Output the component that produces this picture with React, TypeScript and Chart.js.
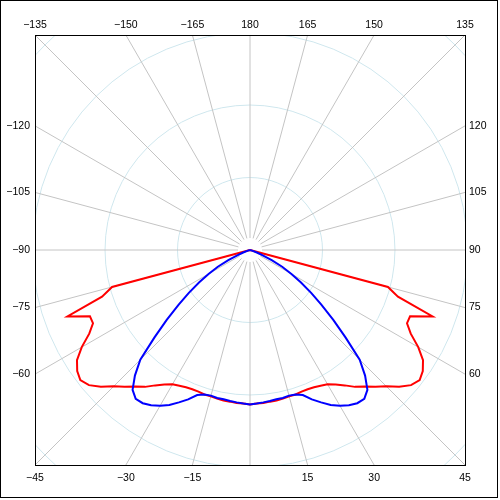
import React, { useEffect, useRef } from "react";
import { Chart, registerables } from "chart.js";

Chart.register(...registerables);

// gamma angles (deg from nadir), one half-plane; the other half is the mirror
const GAMMA = [0, 2.5, 5, 7.5, 10, 12.5, 15, 17.5, 20, 22.5, 25, 27.5, 30, 32.5, 35, 37.5, 40, 42.5, 45, 47.5, 50, 52.5, 55, 57.5, 60, 62.5, 65, 67.5, 70, 72.5, 75, 77.5, 80, 82.5, 85, 87.5, 90];

// C0-C180 plane (red)
const RED_C0_C180 = [213, 212, 212, 211, 211, 210, 209, 209, 208, 208, 209, 211, 214, 220, 228, 238, 246, 256, 266, 279, 290, 295, 291, 283, 268, 250, 239, 239, 268, 214, 197, 0, 0, 0, 0, 0, 0];

// C90-C270 plane (blue)
const BLUE_C90_C270 = [213, 212, 211, 210, 209, 209, 208, 209, 213, 223, 232, 241, 248, 254, 258, 259, 252, 235, 214, 179, 150, 124, 103, 83, 66, 50, 33, 19, 10, 3, 0, 0, 0, 0, 0, 0, 0];

// concentric rings
const RING_VALUES = [100, 200, 300, 400];

// spokes every 15 degrees
const SPOKE_ANGLES = [-165, -150, -135, -120, -105, -90, -75, -60, -45, -30, -15, 0, 15, 30, 45, 60, 75, 90, 105, 120, 135, 150, 165, 180];

// spokes whose label is shown on the frame
const LABELLED_ANGLES = [-165, -150, -135, -120, -105, -90, -75, -60, -45, -30, -15, 15, 30, 45, 60, 75, 90, 105, 120, 135, 150, 165, 180];

const AXIS_LIMIT = 296.6;

function toPoints(values: number[]) {
  const pts: { x: number; y: number }[] = [];
  for (let i = GAMMA.length - 1; i >= 0; i--) {
    const g = (-GAMMA[i] * Math.PI) / 180;
    pts.push({ x: values[i] * Math.sin(g), y: -values[i] * Math.cos(g) });
  }
  for (let i = 1; i < GAMMA.length; i++) {
    const g = (GAMMA[i] * Math.PI) / 180;
    pts.push({ x: values[i] * Math.sin(g), y: -values[i] * Math.cos(g) });
  }
  return pts;
}

function fmt(a: number) {
  return a < 0 ? "\u2212" + Math.abs(a) : String(a);
}

const polarGrid = {
  id: "polarGrid",
  beforeDatasetsDraw(chart: any) {
    const { ctx, chartArea, scales } = chart;
    const xs = scales.x;
    const ys = scales.y;
    const cx = xs.getPixelForValue(0);
    const cy = ys.getPixelForValue(0);
    const half = (chartArea.right - chartArea.left) / 2;
    ctx.save();
    ctx.beginPath();
    ctx.rect(chartArea.left, chartArea.top, chartArea.right - chartArea.left, chartArea.bottom - chartArea.top);
    ctx.clip();
    ctx.strokeStyle = "#cfe7ee";
    ctx.lineWidth = 1;
    for (const v of RING_VALUES) {
      const r = xs.getPixelForValue(v) - cx;
      ctx.beginPath();
      ctx.arc(cx, cy, r, 0, Math.PI * 2);
      ctx.stroke();
    }
    ctx.strokeStyle = "#c4c4c4";
    for (const a of SPOKE_ANGLES) {
      const g = (a * Math.PI) / 180;
      const dx = Math.sin(g);
      const dy = Math.cos(g);
      const t = half / Math.max(Math.abs(dx), Math.abs(dy));
      const r0 = 12;
      ctx.beginPath();
      ctx.moveTo(cx + dx * r0, cy + dy * r0);
      ctx.lineTo(cx + dx * t, cy + dy * t);
      ctx.stroke();
    }
    ctx.restore();
  },
  afterDraw(chart: any) {
    const { ctx, chartArea, scales, width, height } = chart;
    const xs = scales.x;
    const ys = scales.y;
    const cx = xs.getPixelForValue(0);
    const cy = ys.getPixelForValue(0);
    const half = (chartArea.right - chartArea.left) / 2;
    ctx.save();
    ctx.strokeStyle = "#000";
    ctx.lineWidth = 1;
    ctx.strokeRect(Math.round(chartArea.left) + 0.5, Math.round(chartArea.top) + 0.5, Math.round(chartArea.right - chartArea.left), Math.round(chartArea.bottom - chartArea.top));
    ctx.strokeRect(0.5, 0.5, width - 3, height - 3);
    ctx.fillStyle = "#000";
    ctx.font = '10.5px "Liberation Sans", Arial, sans-serif';
    ctx.textBaseline = "middle";
    for (const a of LABELLED_ANGLES) {
      const g = (a * Math.PI) / 180;
      const dx = Math.sin(g);
      const dy = Math.cos(g);
      const t = half / Math.max(Math.abs(dx), Math.abs(dy));
      const px = cx + dx * t;
      const py = cy + dy * t;
      const txt = fmt(a);
      if (Math.abs(dy) >= Math.abs(dx) - 1e-9) {
        ctx.textAlign = "center";
        if (dy < 0) ctx.fillText(txt, px, chartArea.top - 10);
        else ctx.fillText(txt, px, chartArea.bottom + 13);
      } else if (dx < 0) {
        ctx.textAlign = "right";
        ctx.fillText(txt, chartArea.left - 5, py);
      } else {
        ctx.textAlign = "left";
        ctx.fillText(txt, chartArea.right + 4, py);
      }
    }
    ctx.restore();
  },
};

export default function App() {
  const ref = useRef<HTMLCanvasElement | null>(null);
  useEffect(() => {
    document.body.style.margin = "0";
    const canvas = ref.current;
    if (!canvas) return;
    const chart = new Chart(canvas, {
      type: "scatter",
      data: {
        datasets: [
          {
            label: "C90-C270",
            data: toPoints(BLUE_C90_C270),
            showLine: true,
            borderColor: "#0000ff",
            backgroundColor: "#0000ff",
            borderWidth: 2,
            pointRadius: 0,
            tension: 0,
          },
          {
            label: "C0-C180",
            data: toPoints(RED_C0_C180),
            showLine: true,
            borderColor: "#ff0000",
            backgroundColor: "#ff0000",
            borderWidth: 2,
            pointRadius: 0,
            tension: 0,
          },
        ],
      },
      options: {
        responsive: false,
        animation: false,
        layout: { padding: 35 },
        plugins: { legend: { display: false }, tooltip: { enabled: false } },
        scales: {
          x: { type: "linear", min: -AXIS_LIMIT, max: AXIS_LIMIT, display: false },
          y: { type: "linear", min: -AXIS_LIMIT, max: AXIS_LIMIT, display: false },
        },
      },
      plugins: [polarGrid],
    });
    return () => chart.destroy();
  }, []);
  return <canvas ref={ref} width={500} height={500} style={{ display: "block" }} />;
}
